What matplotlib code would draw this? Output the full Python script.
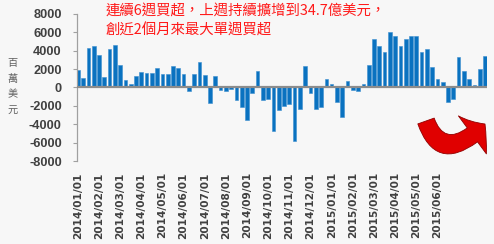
import matplotlib
matplotlib.use("Agg")
import matplotlib.pyplot as plt
from matplotlib.patches import FancyArrowPatch
from matplotlib.path import Path

# weekly net flow, million USD (2014/01 - 2015/06)
flows = [1900, 1050, 4330, 4550, 3530, 1160, 4180, 4650, 2440, 840,
         360, 1240, 1710, 1600, 1530, 2150, 1490, 1490, 2330, 2150,
         1490, -360, 1490, 2800, 1380, -1710, 1240, -250, -360, -200,
         -1350, -2110, -3530, -650, 1820, -1350, -1240, -4730, -2470, -2040,
         -1820, -5820, -2290, 2330, -650, -2330, -2110, 950, 360, -1560,
         -3200, 650, -250, -360, 360, 2440, 5270, 4500, 3850, 6020,
         5640, 4500, 5300, 5600, 5600, 3850, 4150, 2180, 910, 580,
         -1530, -1270, 3310, 1750, 950, 250, 2000, 3470]
month_labels = ["2014/01/01", "2014/02/01", "2014/03/01", "2014/04/01", "2014/05/01",
                "2014/06/01", "2014/07/01", "2014/08/01", "2014/09/01", "2014/10/01",
                "2014/11/01", "2014/12/01", "2015/01/01", "2015/02/01", "2015/03/01",
                "2015/04/01", "2015/05/01", "2015/06/01"]
title_lines = ["連續6週買超，上週持續擴增到34.7億美元，", "創近2個月來最大單週買超"]
y_ticks = list(range(-8000, 8001, 2000))

bg = "#f7f7f7"
fig = plt.figure(figsize=(4.94, 2.44), dpi=100, facecolor=bg)
ax = fig.add_axes([0.156, 0.340, 0.830, 0.603], facecolor=bg)

x = list(range(len(flows)))
ax.bar(x, flows, width=0.7, color="#0a72c0", edgecolor="#3d8fd0", linewidth=0.4, zorder=2)
ax.axhline(0, color="#8c8c8c", linewidth=1.6, zorder=3)

ax.set_xlim(-0.15, len(flows) - 0.6)
ax.set_ylim(-8000, 8000)

for s in ["top", "right", "bottom"]:
    ax.spines[s].set_visible(False)
ax.spines["left"].set_color("#a0a0a0")
ax.spines["left"].set_linewidth(0.9)

ax.set_yticks(y_ticks)
ax.set_yticklabels([str(v) for v in y_ticks], family="Liberation Sans",
                   fontweight="bold", fontsize=9.2, color="#404040")
ax.tick_params(axis="y", length=3, width=0.8, color="#a0a0a0", pad=8)

ax.set_xticks(x[::4][:len(month_labels)])
ax.set_xticklabels(month_labels, rotation=90, family="DejaVu Sans",
                   fontweight="bold", fontsize=7.6, color="#404040")
ax.tick_params(axis="x", length=0, pad=8)

fig.text(0.025, 0.645, "百\n萬\n美\n元", family=["Noto Sans CJK TC", "DejaVu Sans"],
         fontsize=7.3, color="#606060", ha="center", va="center", linespacing=1.7,
         fontweight="light")

for i, line in enumerate(title_lines):
    fig.text(106 / 494, 1 - (11 + 20 * i) / 244, line,
             family=["Noto Sans CJK TC", "DejaVu Sans"], fontweight="light",
             fontsize=10.4, color="#ff1a1a", ha="left", va="center")

# curved red arrow (bottom right), quadratic bezier, pixels from top-left
pts = [(426, 121), (442, 166), (485, 124)]
pts = [(px / 494, 1 - py / 244) for px, py in pts]
arrow_path = Path(pts, [Path.MOVETO, Path.CURVE3, Path.CURVE3])
arrow = FancyArrowPatch(path=arrow_path, transform=fig.transFigure,
                        arrowstyle="simple,head_width=3.4,head_length=1.2,tail_width=1.25",
                        mutation_scale=10, facecolor="#e00000", edgecolor="#900000",
                        linewidth=0.6, zorder=5)
fig.add_artist(arrow)

fig.savefig("out.png", dpi=100, facecolor=bg)
